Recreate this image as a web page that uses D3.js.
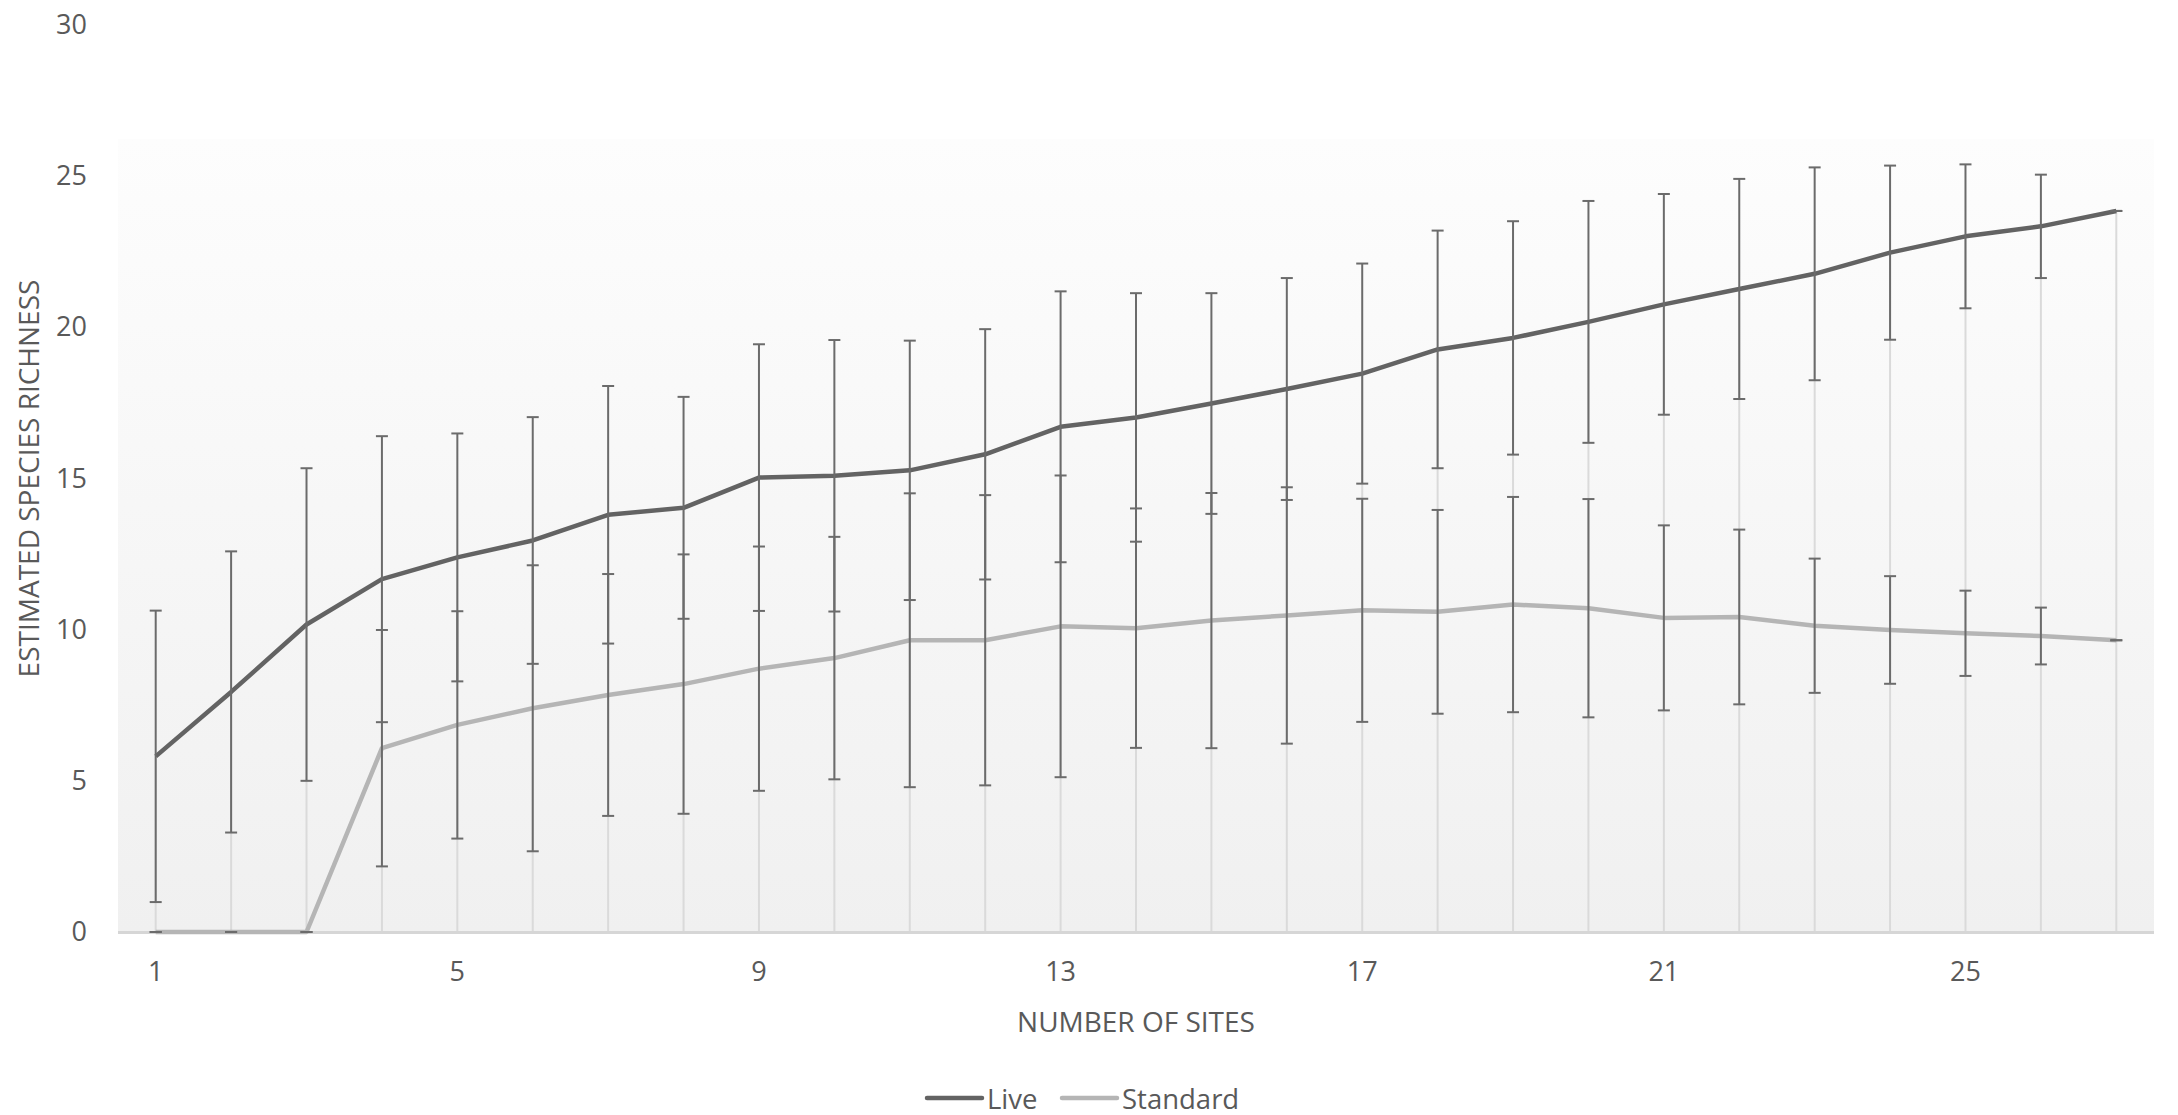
<!DOCTYPE html>
<html>
<head>
<meta charset="utf-8">
<script src="https://cdn.jsdelivr.net/npm/d3@7"></script>
<style>
  html, body { margin: 0; padding: 0; background: #ffffff; }
  svg { display: block; }
  text { font-family: "Open Sans", "Noto Sans", sans-serif; fill: #595959; }
</style>
</head>
<body>
<svg id="chart" width="2178" height="1115"></svg>
<script>
// Number of sites sampled
const sites = [1, 2, 3, 4, 5, 6, 7, 8, 9, 10, 11, 12, 13, 14, 15, 16, 17, 18, 19, 20, 21, 22, 23, 24, 25, 26, 27];

// Estimated species richness, "Live" survey, with symmetric error
const live = [5.81, 7.94, 10.17, 11.67, 12.39, 12.95, 13.80, 14.03, 15.03, 15.09, 15.27, 15.80, 16.71, 17.02,
              17.48, 17.96, 18.47, 19.27, 19.65, 20.18, 20.76, 21.27, 21.77, 22.47, 23.01, 23.34, 23.85];
const liveErr = [4.82, 4.65, 5.17, 4.73, 4.10, 4.08, 4.26, 3.67, 4.41, 4.49, 4.29, 4.14, 4.48, 4.11,
                 3.65, 3.67, 3.64, 3.93, 3.86, 4.00, 3.65, 3.64, 3.52, 2.88, 2.38, 1.71, 0];

// Estimated species richness, "Standard" survey, with symmetric error
const standard = [0, 0, 0, 6.08, 6.85, 7.40, 7.84, 8.20, 8.71, 9.06, 9.65, 9.65, 10.11, 10.05,
                  10.30, 10.47, 10.64, 10.59, 10.83, 10.71, 10.39, 10.42, 10.13, 9.99, 9.88, 9.79, 9.65];
const standardErr = [0, 0, 0, 3.91, 3.76, 4.73, 4.00, 4.29, 4.04, 4.01, 4.86, 4.80, 4.99, 3.96,
                     4.22, 4.24, 3.69, 3.37, 3.56, 3.61, 3.06, 2.89, 2.22, 1.78, 1.41, 0.94, 0];

// Axis ticks and labels
const yTicks = [0, 5, 10, 15, 20, 25, 30];
const xTicks = [1, 5, 9, 13, 17, 21, 25];
const seriesNames = ["Live", "Standard"];
const seriesColors = ["#636363", "#b5b5b5"];
const xTitle = "NUMBER OF SITES";
const yTitle = "ESTIMATED SPECIES RICHNESS";

const svg = d3.select("#chart");

const plot = { left: 118, right: 2154, top: 139, bottom: 932 };

const x = d3.scaleBand().domain(sites).range([plot.left, plot.right]).padding(0);
const cx = d => x(d) + x.bandwidth() / 2;
const y = d3.scaleLinear().domain([0, 30]).range([plot.bottom, 25]);

// Plot area with soft vertical gradient
const defs = svg.append("defs");
const grad = defs.append("linearGradient")
  .attr("id", "plotFill").attr("x1", 0).attr("y1", 0).attr("x2", 0).attr("y2", 1);
grad.append("stop").attr("offset", "0%").attr("stop-color", "#fdfdfd");
grad.append("stop").attr("offset", "100%").attr("stop-color", "#f0f0f0");

svg.append("rect")
  .attr("x", plot.left).attr("y", plot.top)
  .attr("width", plot.right - plot.left).attr("height", plot.bottom - plot.top)
  .attr("fill", "url(#plotFill)");

// Drop lines from the highest series value down to the category axis
svg.append("g").selectAll("line").data(sites).join("line")
  .attr("x1", d => cx(d)).attr("x2", d => cx(d))
  .attr("y1", (d, i) => y(Math.max(live[i], standard[i]))).attr("y2", plot.bottom)
  .attr("stroke", "#dadada").attr("stroke-width", 2);

// Category axis baseline
svg.append("line")
  .attr("x1", plot.left).attr("x2", plot.right)
  .attr("y1", plot.bottom + 0.5).attr("y2", plot.bottom + 0.5)
  .attr("stroke", "#d6d6d6").attr("stroke-width", 3);

// Axes
const yAxis = svg.append("g")
  .attr("transform", `translate(${plot.left},0)`)
  .call(d3.axisLeft(y).tickValues(yTicks).tickSize(0).tickPadding(31));
yAxis.select(".domain").remove();
yAxis.selectAll("text").style("font-size", "27px").attr("fill", "#595959")
  .style("font-family", "'Open Sans', sans-serif");

const xAxis = svg.append("g")
  .attr("transform", `translate(0,${plot.bottom})`)
  .call(d3.axisBottom(x).tickValues(xTicks).tickSize(0).tickPadding(30));
xAxis.select(".domain").remove();
xAxis.selectAll("text").style("font-size", "27px").attr("fill", "#595959")
  .style("font-family", "'Open Sans', sans-serif");

// Axis titles
svg.append("text")
  .attr("x", (plot.left + plot.right) / 2).attr("y", 1021)
  .attr("text-anchor", "middle").attr("dominant-baseline", "central")
  .style("font-size", "28px")
  .text(xTitle);

svg.append("text")
  .attr("transform", `translate(28,${(y(0) + y(30)) / 2}) rotate(-90)`)
  .attr("text-anchor", "middle").attr("dominant-baseline", "central")
  .style("font-size", "28px")
  .text(yTitle);

// Series lines
const series = [
  { name: seriesNames[0], values: live, err: liveErr, color: seriesColors[0] },
  { name: seriesNames[1], values: standard, err: standardErr, color: seriesColors[1] }
];

const line = d3.line().x((d, i) => cx(sites[i])).y(d => y(d));

svg.append("g").selectAll("path").data(series).join("path")
  .attr("d", s => line(s.values))
  .attr("fill", "none")
  .attr("stroke", s => s.color)
  .attr("stroke-width", 4.5)
  .attr("stroke-linejoin", "round");

// Error bars with caps
const capHalf = 6;
const bars = [];
series.forEach(s => s.values.forEach((v, i) => bars.push({ site: sites[i], v, e: s.err[i] })));

const eb = svg.append("g").attr("stroke", "#6b6b6b").attr("stroke-width", 2);
eb.selectAll("line.stem").data(bars).join("line").attr("class", "stem")
  .attr("x1", d => cx(d.site)).attr("x2", d => cx(d.site))
  .attr("y1", d => y(d.v + d.e)).attr("y2", d => y(d.v - d.e));
eb.selectAll("line.capTop").data(bars).join("line").attr("class", "capTop")
  .attr("x1", d => cx(d.site) - capHalf).attr("x2", d => cx(d.site) + capHalf)
  .attr("y1", d => y(d.v + d.e)).attr("y2", d => y(d.v + d.e));
eb.selectAll("line.capBot").data(bars).join("line").attr("class", "capBot")
  .attr("x1", d => cx(d.site) - capHalf).attr("x2", d => cx(d.site) + capHalf)
  .attr("y1", d => y(d.v - d.e)).attr("y2", d => y(d.v - d.e));

// Legend
const legendItems = [
  { name: seriesNames[0], color: seriesColors[0], x: 927 },
  { name: seriesNames[1], color: seriesColors[1], x: 1062 }
];
const lg = svg.append("g").selectAll("g").data(legendItems).join("g")
  .attr("transform", d => `translate(${d.x},1098)`);
lg.append("line").attr("x1", 0).attr("x2", 55).attr("y1", 0).attr("y2", 0)
  .attr("stroke", d => d.color).attr("stroke-width", 4.5).attr("stroke-linecap", "round");
lg.append("text").attr("x", 60).attr("y", 0).attr("dominant-baseline", "central")
  .style("font-size", "27.5px").text(d => d.name);
</script>
</body>
</html>
